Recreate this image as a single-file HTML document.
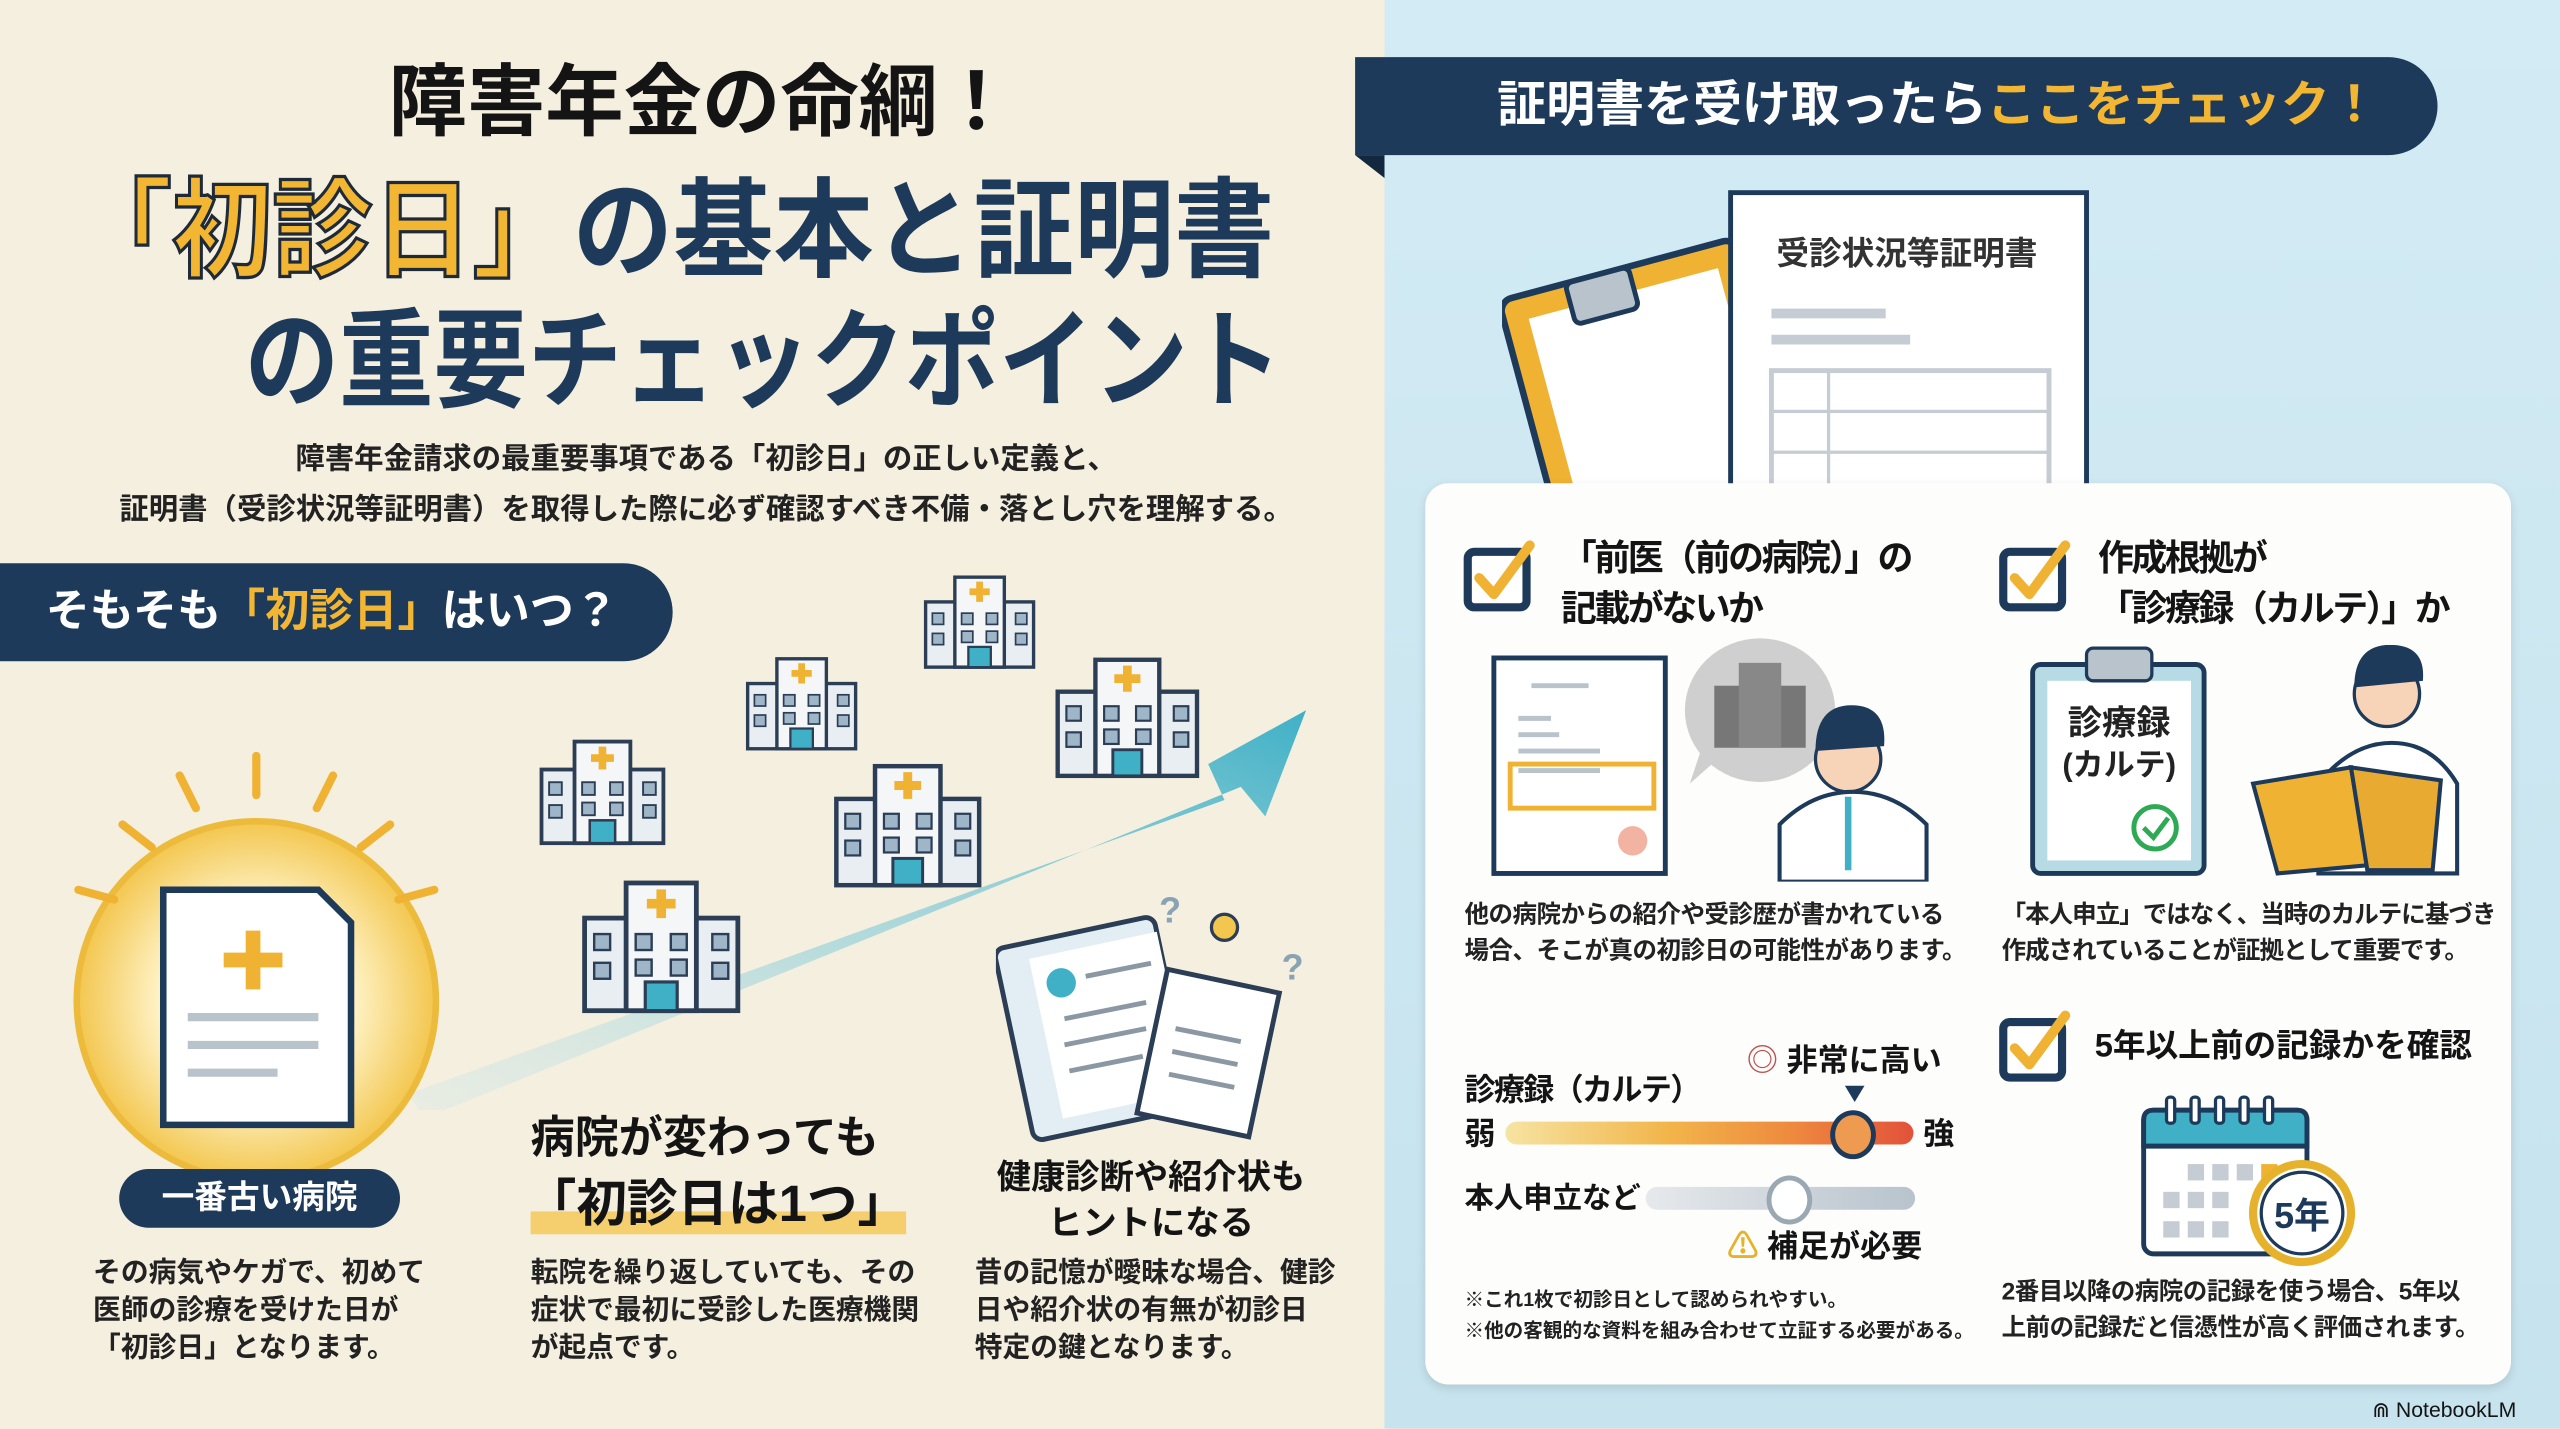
<!DOCTYPE html>
<html><head><meta charset="utf-8"><style>
html,body{margin:0;padding:0;width:2560px;height:1429px;overflow:hidden;background:#f4eedd;}
#w{position:absolute;left:0;top:0;width:1568px;height:875px;transform:scale(1.63265);transform-origin:0 0;font-family:"Liberation Sans","Noto Sans CJK JP",sans-serif;font-weight:700;color:#222;}
.a{position:absolute;white-space:nowrap;line-height:1;}
.c{text-align:center;}
</style></head><body><div id="w">
<div class="a" style="left:0;top:0;width:848px;height:875px;background:#f5efdf"></div>
<div class="a" style="left:848px;top:0;width:720px;height:875px;background:linear-gradient(180deg,#d3ebf4,#c6e3ee)"></div>

<svg width="0" height="0" style="position:absolute"><defs>
<symbol id="h" viewBox="0 0 100 90">
<rect x="2" y="30" width="96" height="58" fill="#e9eef2" stroke="#2b3e55" stroke-width="3"/>
<rect x="28" y="8" width="44" height="80" fill="#f4f6f8" stroke="#2b3e55" stroke-width="3"/>
<path d="M50 12v18M41 21h18" stroke="#f0b232" stroke-width="6"/>
<g fill="#9fb6c8" stroke="#2b3e55" stroke-width="1.5"><rect x="8" y="40" width="10" height="10"/><rect x="8" y="58" width="10" height="10"/><rect x="82" y="40" width="10" height="10"/><rect x="82" y="58" width="10" height="10"/><rect x="34" y="40" width="10" height="10"/><rect x="56" y="40" width="10" height="10"/><rect x="34" y="56" width="10" height="10"/><rect x="56" y="56" width="10" height="10"/></g>
<rect x="40" y="70" width="20" height="18" fill="#3fb0c6" stroke="#2b3e55" stroke-width="2"/>
</symbol>
<symbol id="ck" viewBox="0 0 50 46"><rect x="3" y="8" width="36" height="34" rx="4" fill="#fff" stroke="#1e3a5a" stroke-width="5"/><path d="M10 24l9 10 22-30" fill="none" stroke="#f0b232" stroke-width="6" stroke-linecap="round" stroke-linejoin="round"/></symbol>
</defs></svg>

<!-- title -->
<div class="a c" style="left:0;width:860px;top:40px;font-size:48px;color:#141414">障害年金の命綱！</div>
<div class="a" style="left:44px;top:108px;font-size:66px;color:#1e3a5a;transform:scaleX(0.93);transform-origin:0 0"><span style="color:#f2b632;-webkit-text-stroke:2px #1e2a38">「初診日」</span>の基本と証明書</div>
<div class="a" style="left:150px;top:188px;font-size:66px;color:#1e3a5a;transform:scaleX(0.875);transform-origin:0 0">の重要チェックポイント</div>
<div class="a c" style="left:0;width:865px;top:266px;font-size:18px;line-height:31px;color:#222">障害年金請求の最重要事項である「初診日」の正しい定義と、<br>証明書（受診状況等証明書）を取得した際に必ず確認すべき不備・落とし穴を理解する。</div>

<div class="a" style="left:0;top:345px;width:412px;height:60px;background:#1e3a5a;border-radius:0 30px 30px 0"></div>
<div class="a" style="left:28px;top:361px;font-size:27px;color:#fff">そもそも<span style="color:#f2b632">「初診日」</span>はいつ？</div>

<!-- arrow -->
<svg class="a" style="left:230px;top:420px" width="580" height="260"><defs><linearGradient id="ag" x1="0" y1="1" x2="1" y2="0"><stop offset="0" stop-color="#cfe8ea" stop-opacity="0.3"/><stop offset="1" stop-color="#3fb0c6"/></linearGradient></defs><polygon points="20,250 520,70 510,48 570,15 545,80 530,62 30,265" fill="url(#ag)"/></svg>
<svg class="a" style="left:330px;top:448px" width="78" height="70"><use href="#h"/></svg>
<svg class="a" style="left:455px;top:398px" width="72" height="62"><use href="#h"/></svg>
<svg class="a" style="left:565px;top:348px" width="70" height="62"><use href="#h"/></svg>
<svg class="a" style="left:643px;top:397px" width="95" height="80"><use href="#h"/></svg>
<svg class="a" style="left:508px;top:462px" width="96" height="82"><use href="#h"/></svg>
<svg class="a" style="left:355px;top:533px" width="100" height="88"><use href="#h"/></svg>

<!-- glow -->
<svg class="a" style="left:30px;top:455px" width="260" height="280">
<defs><radialGradient id="g"><stop offset="0.5" stop-color="#fff6d0"/><stop offset="1" stop-color="#f3c64e"/></radialGradient></defs>
<circle cx="127" cy="158" r="110" fill="url(#g)" stroke="#edbb3c" stroke-width="4"/>
<g stroke="#f0b232" stroke-width="5" stroke-linecap="round"><path d="M127 8v24M80 20l10 20M174 20l-10 20M45 50l18 14M209 50l-18 14M18 90l22 6M236 90l-22 6"/></g>
<path d="M70 90h95l20 20v124h-115z" fill="#fff" stroke="#1e3a5a" stroke-width="4"/>
<path d="M125 115v36M107 133h36" stroke="#f0b232" stroke-width="9"/>
<g stroke="#b8c3cc" stroke-width="5"><path d="M85 168h80M85 185h80M85 202h55"/></g>
</svg>
<div class="a c" style="left:73px;top:716px;width:172px;height:36px;background:#1e3a5a;border-radius:18px;color:#fff;font-size:20px;line-height:36px">一番古い病院</div>
<div class="a" style="left:57px;top:768px;font-size:17px;line-height:23px">その病気やケガで、初めて<br>医師の診療を受けた日が<br>「初診日」となります。</div>

<div class="a" style="left:325px;top:684px;font-size:27px;color:#141414">病院が変わっても</div>
<div class="a" style="left:325px;top:742px;width:230px;height:14px;background:#f5cf6e"></div>
<div class="a" style="left:322px;top:722px;font-size:31px;color:#141414">「初診日は1つ」</div>
<div class="a" style="left:325px;top:768px;font-size:17px;line-height:23px">転院を繰り返していても、その<br>症状で最初に受診した医療機関<br>が起点です。</div>

<!-- clipboard -->
<svg class="a" style="left:610px;top:540px" width="200" height="160">
<rect x="10" y="30" width="100" height="120" rx="6" transform="rotate(-12 60 90)" fill="#e3eef4" stroke="#2b3e55" stroke-width="3"/>
<rect x="30" y="40" width="80" height="100" transform="rotate(-12 60 90)" fill="#fff"/>
<circle cx="40" cy="62" r="9" fill="#3fb0c6"/>
<g stroke="#8b98a4" stroke-width="3"><path d="M55 58l40-8M42 84l50-10M42 100l50-10M45 116l45-9"/></g>
<rect x="95" y="60" width="70" height="90" transform="rotate(12 130 105)" fill="#fff" stroke="#2b3e55" stroke-width="3"/>
<g stroke="#8b98a4" stroke-width="3"><path d="M110 90l40 8M108 104l40 8M106 118l40 8"/></g>
<path d="M140 20a8 8 0 1 1 0 16a8 8 0 1 1 0-16z" fill="#f3c64e" stroke="#2b3e55" stroke-width="2"/>
<text x="100" y="25" font-size="22" fill="#8aa3b4">?</text><text x="175" y="60" font-size="22" fill="#8aa3b4">?</text>
</svg>
<div class="a c" style="left:600px;top:708px;width:210px;font-size:21px;line-height:28px;color:#141414">健康診断や紹介状も<br>ヒントになる</div>
<div class="a" style="left:597px;top:768px;font-size:17px;line-height:23px">昔の記憶が曖昧な場合、健診<br>日や紹介状の有無が初診日<br>特定の鍵となります。</div>

<!-- right banner -->
<div class="a" style="left:830px;top:35px;width:663px;height:60px;background:#1e3a5a;border-radius:0 30px 30px 0"></div>
<div class="a" style="left:830px;top:95px;width:0;height:0;border-top:14px solid #13283f;border-left:18px solid transparent"></div>
<div class="a" style="left:917px;top:50px;font-size:30px;color:#fff">証明書を受け取ったら<span style="color:#f2b632">ここをチェック！</span></div>

<svg class="a" style="left:920px;top:112px" width="370" height="190">
<rect x="20" y="50" width="150" height="190" rx="8" transform="rotate(-15 95 145)" fill="#f0b232" stroke="#1e3a5a" stroke-width="4"/>
<rect x="35" y="65" width="120" height="170" transform="rotate(-15 95 145)" fill="#fff"/>
<rect x="62" y="50" width="40" height="26" rx="4" transform="rotate(-15 95 145)" fill="#b8c3cc" stroke="#1e3a5a" stroke-width="3"/>
<rect x="140" y="6" width="218" height="200" fill="#fff" stroke="#1e3a5a" stroke-width="3"/>
<text x="168" y="50" font-size="20" fill="#333" font-weight="700" font-family="Liberation Sans, Noto Sans CJK JP, sans-serif">受診状況等証明書</text>
<g stroke="#c5ccd3" stroke-width="6"><path d="M165 80h70M165 96h85"/></g>
<rect x="165" y="115" width="170" height="80" fill="none" stroke="#c5ccd3" stroke-width="3"/>
<path d="M165 140h170M165 165h170M200 115v80" stroke="#c5ccd3" stroke-width="2"/>
</svg>

<!-- card -->
<div class="a" style="left:873px;top:296px;width:665px;height:552px;background:#fdfdfb;border-radius:14px;box-shadow:0 2px 6px rgba(0,0,0,0.12)"></div>

<svg class="a" style="left:896px;top:330px" width="50" height="46"><use href="#ck"/></svg>
<div class="a" style="left:956px;top:326px;font-size:22px;line-height:31px;color:#141414;letter-spacing:-1.5px">「前医（前の病院）」の<br>記載がないか</div>
<svg class="a" style="left:910px;top:390px" width="280" height="150">
<rect x="5" y="13" width="105" height="132" fill="#fff" stroke="#1e3a5a" stroke-width="3"/>
<g stroke="#b8c3cc" stroke-width="3"><path d="M28 30h35M20 50h20M20 60h25M20 70h50M20 82h50"/></g>
<rect x="15" y="78" width="88" height="27" fill="none" stroke="#f0b232" stroke-width="3"/>
<circle cx="90" cy="125" r="9" fill="#f2b3a3"/>
<ellipse cx="168" cy="45" rx="46" ry="44" fill="#cfcfcf"/>
<path d="M135 60l-10 30 25-22z" fill="#cfcfcf"/>
<rect x="140" y="30" width="56" height="38" fill="#777"/><rect x="155" y="16" width="26" height="52" fill="#888"/>
<circle cx="222" cy="75" r="20" fill="#f7d3b8" stroke="#1e3a5a" stroke-width="2"/>
<path d="M202 70q0-28 22-28t20 25" fill="#1e3a5a"/>
<path d="M180 150v-35q20-20 45-20t45 20v35z" fill="#fff" stroke="#1e3a5a" stroke-width="2.5"/>
<path d="M222 98v45" stroke="#3fb0c6" stroke-width="4"/>
</svg>
<div class="a" style="left:897px;top:550px;font-size:15px;line-height:22px;letter-spacing:-0.3px">他の病院からの紹介や受診歴が書かれている<br>場合、そこが真の初診日の可能性があります。</div>

<svg class="a" style="left:1224px;top:330px" width="50" height="46"><use href="#ck"/></svg>
<div class="a" style="left:1285px;top:326px;font-size:22px;line-height:31px;color:#141414;letter-spacing:-1.5px">作成根拠が<br>「診療録（カルテ）」か</div>
<svg class="a" style="left:1240px;top:395px" width="280" height="150">
<rect x="5" y="12" width="105" height="128" rx="5" fill="#b6dbe5" stroke="#1e3a5a" stroke-width="3"/>
<rect x="14" y="22" width="88" height="110" fill="#fff"/>
<rect x="38" y="2" width="40" height="20" rx="4" fill="#b8c3cc" stroke="#1e3a5a" stroke-width="2"/>
<text x="58" y="55" text-anchor="middle" font-size="21" font-weight="700" fill="#222" font-family="Liberation Sans, Noto Sans CJK JP, sans-serif">診療録</text>
<text x="58" y="80" text-anchor="middle" font-size="19" font-weight="700" fill="#222" font-family="Liberation Sans, Noto Sans CJK JP, sans-serif">(カルテ)</text>
<circle cx="80" cy="112" r="13" fill="none" stroke="#2eaa55" stroke-width="3"/><path d="M73 112l6 6 9-12" fill="none" stroke="#2eaa55" stroke-width="3"/>
<circle cx="222" cy="30" r="20" fill="#f7d3b8" stroke="#1e3a5a" stroke-width="2"/>
<path d="M202 26q0-26 22-26t20 22" fill="#1e3a5a"/>
<path d="M180 140v-55q20-25 45-25t40 25v55z" fill="#fff" stroke="#1e3a5a" stroke-width="2.5"/>
<path d="M140 85l60-10 10 60-55 5z" fill="#f0b232" stroke="#1e3a5a" stroke-width="2.5"/>
<path d="M200 75l55 8-5 55-40 0z" fill="#e8aa30" stroke="#1e3a5a" stroke-width="2.5"/>
</svg>
<div class="a" style="left:1226px;top:550px;font-size:15px;line-height:22px;letter-spacing:-0.6px">「本人申立」ではなく、当時のカルテに基づき<br>作成されていることが証拠として重要です。</div>

<!-- scale -->
<div class="a" style="left:1070px;top:641px;font-size:19px;color:#141414"><span style="color:#c0504d">◎</span> 非常に高い</div>
<div class="a" style="left:1130px;top:665px;width:0;height:0;border-left:6px solid transparent;border-right:6px solid transparent;border-top:10px solid #1e3a5a"></div>
<div class="a" style="left:897px;top:659px;font-size:19px;color:#141414;letter-spacing:-1px">診療録（カルテ）</div>
<div class="a" style="left:897px;top:686px;font-size:19px;color:#141414">弱</div>
<div class="a" style="left:922px;top:687px;width:250px;height:14px;border-radius:7px;background:linear-gradient(90deg,#f6e4a3,#f2b54a 40%,#ee8a3e 70%,#e2523a)"></div>
<div class="a" style="left:1121px;top:680px;width:22px;height:24px;border-radius:50%;background:#ee9a50;border:3px solid #1e3a5a"></div>
<div class="a" style="left:1178px;top:686px;font-size:19px;color:#141414">強</div>
<div class="a" style="left:897px;top:725px;font-size:18px;color:#141414">本人申立など</div>
<div class="a" style="left:1008px;top:727px;width:165px;height:14px;border-radius:7px;background:linear-gradient(90deg,#e6e9ec,#b8c3cc)"></div>
<div class="a" style="left:1082px;top:720px;width:22px;height:24px;border-radius:50%;background:#fff;border:3px solid #9aa8b4"></div>
<div class="a" style="left:1058px;top:755px;font-size:19px;color:#141414"><span style="color:#e7b22b">⚠</span> 補足が必要</div>
<div class="a" style="left:897px;top:787px;font-size:12px;line-height:19px">※これ1枚で初診日として認められやすい。<br>※他の客観的な資料を組み合わせて立証する必要がある。</div>

<svg class="a" style="left:1224px;top:618px" width="50" height="46"><use href="#ck"/></svg>
<div class="a" style="left:1283px;top:631px;font-size:20px;color:#141414">5年以上前の記録かを確認</div>
<svg class="a" style="left:1305px;top:668px" width="145" height="115">
<rect x="8" y="12" width="100" height="88" rx="6" fill="#fff" stroke="#1e3a5a" stroke-width="3"/>
<path d="M8 18q0-6 6-6h88q6 0 6 6v16h-100z" fill="#3fb0c6" stroke="#1e3a5a" stroke-width="3"/>
<g fill="#fff" stroke="#1e3a5a" stroke-width="2"><rect x="22" y="4" width="5" height="16" rx="2"/><rect x="37" y="4" width="5" height="16" rx="2"/><rect x="52" y="4" width="5" height="16" rx="2"/><rect x="67" y="4" width="5" height="16" rx="2"/><rect x="82" y="4" width="5" height="16" rx="2"/></g>
<g fill="#c5ccd3"><rect x="35" y="45" width="10" height="10"/><rect x="50" y="45" width="10" height="10"/><rect x="65" y="45" width="10" height="10"/><rect x="20" y="62" width="10" height="10"/><rect x="35" y="62" width="10" height="10"/><rect x="50" y="62" width="10" height="10"/><rect x="20" y="80" width="10" height="10"/><rect x="35" y="80" width="10" height="10"/><rect x="50" y="80" width="10" height="10"/></g>
<rect x="80" y="45" width="10" height="10" fill="#f0b232"/>
<circle cx="105" cy="75" r="30" fill="#fff" stroke="#e7b22b" stroke-width="5"/>
<circle cx="105" cy="75" r="25" fill="none" stroke="#1e3a5a" stroke-width="2"/>
<text x="105" y="84" text-anchor="middle" font-size="22" font-weight="700" fill="#1e3a5a" font-family="Liberation Sans, Noto Sans CJK JP, sans-serif">5年</text>
</svg>
<div class="a" style="left:1226px;top:781px;font-size:15px;line-height:22px;letter-spacing:-0.3px">2番目以降の病院の記録を使う場合、5年以<br>上前の記録だと信憑性が高く評価されます。</div>

<div class="a" style="left:1453px;top:857px;font-size:13px;color:#141414;font-weight:400">⋒ NotebookLM</div>
</div></body></html>
